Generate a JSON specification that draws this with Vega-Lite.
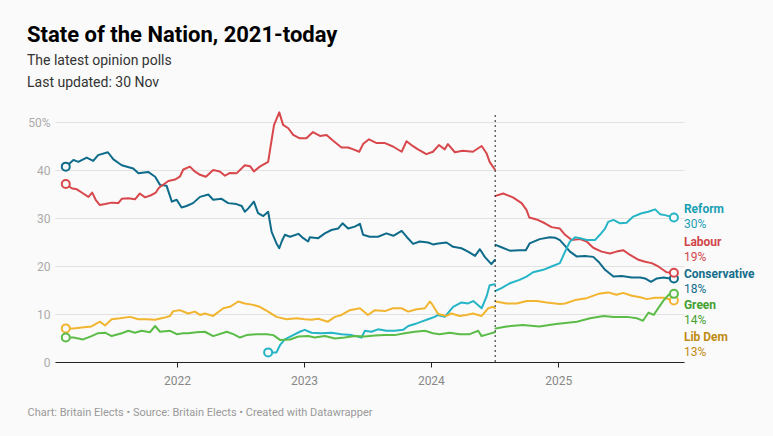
{
  "$schema": "https://vega.github.io/schema/vega-lite/v6.json",
  "width": 629,
  "height": 240,
  "autosize": {"type": "none"},
  "padding": {"left": 55, "top": 122, "right": 89, "bottom": 74},
  "background": "#fafafa",
  "config": {"view": {"stroke": null}, "font": "Roboto"},
  "title": {
    "text": "State of the Nation, 2021-today",
    "subtitle": ["The latest opinion polls", "Last updated: 30 Nov"],
    "anchor": "start",
    "frame": "group",
    "dx": -28,
    "offset": 20,
    "font": "Roboto",
    "fontSize": 22,
    "fontWeight": "bold",
    "color": "#000000",
    "subtitleFont": "Roboto",
    "subtitleFontSize": 14,
    "subtitleColor": "#333333",
    "subtitleLineHeight": 22,
    "subtitlePadding": 7
  },
  "datasets": {
    "polls": [
      {"p":"Conservative","d":"2021-02-15","v":40.7,"s":1},{"p":"Conservative","d":"2021-03-09","v":42.1,"s":1},{"p":"Conservative","d":"2021-03-23","v":41.7,"s":1},{"p":"Conservative","d":"2021-04-16","v":42.6,"s":1},{"p":"Conservative","d":"2021-05-05","v":41.9,"s":1},{"p":"Conservative","d":"2021-05-19","v":43.1,"s":1},{"p":"Conservative","d":"2021-06-16","v":43.7,"s":1},{"p":"Conservative","d":"2021-07-02","v":42.2,"s":1},{"p":"Conservative","d":"2021-07-26","v":41.0,"s":1},{"p":"Conservative","d":"2021-08-28","v":40.3,"s":1},{"p":"Conservative","d":"2021-09-12","v":39.3,"s":1},{"p":"Conservative","d":"2021-10-10","v":39.6,"s":1},{"p":"Conservative","d":"2021-10-30","v":38.6,"s":1},{"p":"Conservative","d":"2021-11-13","v":36.9,"s":1},{"p":"Conservative","d":"2021-12-02","v":36.7,"s":1},{"p":"Conservative","d":"2021-12-17","v":33.4,"s":1},{"p":"Conservative","d":"2021-12-31","v":33.8,"s":1},{"p":"Conservative","d":"2022-01-14","v":32.2,"s":1},{"p":"Conservative","d":"2022-01-28","v":32.5,"s":1},{"p":"Conservative","d":"2022-02-16","v":33.1,"s":1},{"p":"Conservative","d":"2022-03-08","v":34.4,"s":1},{"p":"Conservative","d":"2022-04-01","v":34.9,"s":1},{"p":"Conservative","d":"2022-04-15","v":33.8,"s":1},{"p":"Conservative","d":"2022-05-09","v":34.0,"s":1},{"p":"Conservative","d":"2022-05-28","v":33.1,"s":1},{"p":"Conservative","d":"2022-06-21","v":32.9,"s":1},{"p":"Conservative","d":"2022-07-06","v":32.5,"s":1},{"p":"Conservative","d":"2022-07-15","v":31.3,"s":1},{"p":"Conservative","d":"2022-07-25","v":32.0,"s":1},{"p":"Conservative","d":"2022-08-10","v":33.4,"s":1},{"p":"Conservative","d":"2022-08-22","v":31.0,"s":1},{"p":"Conservative","d":"2022-09-06","v":30.4,"s":1},{"p":"Conservative","d":"2022-09-20","v":31.3,"s":1},{"p":"Conservative","d":"2022-09-30","v":27.1,"s":1},{"p":"Conservative","d":"2022-10-14","v":24.7,"s":1},{"p":"Conservative","d":"2022-10-22","v":23.7,"s":1},{"p":"Conservative","d":"2022-10-29","v":25.1,"s":1},{"p":"Conservative","d":"2022-11-07","v":26.5,"s":1},{"p":"Conservative","d":"2022-11-22","v":26.1,"s":1},{"p":"Conservative","d":"2022-12-16","v":26.7,"s":1},{"p":"Conservative","d":"2022-12-30","v":25.8,"s":1},{"p":"Conservative","d":"2023-01-13","v":25.1,"s":1},{"p":"Conservative","d":"2023-01-18","v":26.0,"s":1},{"p":"Conservative","d":"2023-02-11","v":25.8,"s":1},{"p":"Conservative","d":"2023-03-02","v":26.8,"s":1},{"p":"Conservative","d":"2023-03-21","v":27.5,"s":1},{"p":"Conservative","d":"2023-04-09","v":27.8,"s":1},{"p":"Conservative","d":"2023-04-22","v":28.9,"s":1},{"p":"Conservative","d":"2023-05-08","v":27.8,"s":1},{"p":"Conservative","d":"2023-05-27","v":28.2,"s":1},{"p":"Conservative","d":"2023-06-11","v":28.8,"s":1},{"p":"Conservative","d":"2023-06-20","v":26.5,"s":1},{"p":"Conservative","d":"2023-07-09","v":26.1,"s":1},{"p":"Conservative","d":"2023-08-02","v":26.1,"s":1},{"p":"Conservative","d":"2023-08-26","v":26.8,"s":1},{"p":"Conservative","d":"2023-09-15","v":26.3,"s":1},{"p":"Conservative","d":"2023-10-09","v":27.3,"s":1},{"p":"Conservative","d":"2023-10-23","v":26.1,"s":1},{"p":"Conservative","d":"2023-11-11","v":24.6,"s":1},{"p":"Conservative","d":"2023-11-30","v":25.1,"s":1},{"p":"Conservative","d":"2023-12-24","v":24.9,"s":1},{"p":"Conservative","d":"2024-01-07","v":24.5,"s":1},{"p":"Conservative","d":"2024-01-22","v":24.7,"s":1},{"p":"Conservative","d":"2024-02-15","v":24.9,"s":1},{"p":"Conservative","d":"2024-03-05","v":24.0,"s":1},{"p":"Conservative","d":"2024-03-29","v":23.7,"s":1},{"p":"Conservative","d":"2024-04-17","v":23.0,"s":1},{"p":"Conservative","d":"2024-05-07","v":22.1,"s":1},{"p":"Conservative","d":"2024-05-21","v":23.5,"s":1},{"p":"Conservative","d":"2024-06-04","v":21.9,"s":1},{"p":"Conservative","d":"2024-06-23","v":20.4,"s":1},{"p":"Conservative","d":"2024-07-03","v":21.3,"s":1},
      {"p":"Conservative","d":"2024-07-05","v":24.4,"s":2},{"p":"Conservative","d":"2024-07-22","v":23.9,"s":2},{"p":"Conservative","d":"2024-08-15","v":23.2,"s":2},{"p":"Conservative","d":"2024-09-12","v":23.3,"s":2},{"p":"Conservative","d":"2024-09-30","v":23.3,"s":2},{"p":"Conservative","d":"2024-10-11","v":24.7,"s":2},{"p":"Conservative","d":"2024-11-09","v":25.6,"s":2},{"p":"Conservative","d":"2024-12-08","v":26.0,"s":2},{"p":"Conservative","d":"2024-12-23","v":25.9,"s":2},{"p":"Conservative","d":"2025-01-06","v":25.4,"s":2},{"p":"Conservative","d":"2025-01-21","v":24.2,"s":2},{"p":"Conservative","d":"2025-02-04","v":23.0,"s":2},{"p":"Conservative","d":"2025-02-23","v":22.0,"s":2},{"p":"Conservative","d":"2025-03-19","v":22.1,"s":2},{"p":"Conservative","d":"2025-04-12","v":21.9,"s":2},{"p":"Conservative","d":"2025-04-27","v":20.9,"s":2},{"p":"Conservative","d":"2025-05-16","v":19.2,"s":2},{"p":"Conservative","d":"2025-06-09","v":17.8,"s":2},{"p":"Conservative","d":"2025-07-03","v":17.9,"s":2},{"p":"Conservative","d":"2025-08-01","v":17.6,"s":2},{"p":"Conservative","d":"2025-08-25","v":17.6,"s":2},{"p":"Conservative","d":"2025-09-08","v":17.4,"s":2},{"p":"Conservative","d":"2025-09-25","v":16.7,"s":2},{"p":"Conservative","d":"2025-10-12","v":17.4,"s":2},{"p":"Conservative","d":"2025-10-31","v":17.6,"s":2},{"p":"Conservative","d":"2025-11-19","v":17.4,"s":2},{"p":"Conservative","d":"2025-11-30","v":17.4,"s":2},

      {"p":"Labour","d":"2021-02-15","v":37.1,"s":1},{"p":"Labour","d":"2021-03-04","v":36.2,"s":1},{"p":"Labour","d":"2021-03-18","v":36.0,"s":1},{"p":"Labour","d":"2021-04-06","v":35.1,"s":1},{"p":"Labour","d":"2021-04-21","v":34.4,"s":1},{"p":"Labour","d":"2021-05-02","v":35.3,"s":1},{"p":"Labour","d":"2021-05-12","v":33.8,"s":1},{"p":"Labour","d":"2021-05-24","v":32.7,"s":1},{"p":"Labour","d":"2021-06-08","v":32.9,"s":1},{"p":"Labour","d":"2021-06-27","v":33.2,"s":1},{"p":"Labour","d":"2021-07-16","v":33.1,"s":1},{"p":"Labour","d":"2021-07-26","v":34.0,"s":1},{"p":"Labour","d":"2021-08-14","v":34.1,"s":1},{"p":"Labour","d":"2021-09-02","v":33.9,"s":1},{"p":"Labour","d":"2021-09-16","v":35.1,"s":1},{"p":"Labour","d":"2021-10-01","v":34.3,"s":1},{"p":"Labour","d":"2021-10-20","v":34.8,"s":1},{"p":"Labour","d":"2021-11-01","v":35.3,"s":1},{"p":"Labour","d":"2021-11-10","v":36.3,"s":1},{"p":"Labour","d":"2021-12-07","v":37.7,"s":1},{"p":"Labour","d":"2021-12-26","v":38.0,"s":1},{"p":"Labour","d":"2022-01-09","v":38.6,"s":1},{"p":"Labour","d":"2022-01-19","v":40.1,"s":1},{"p":"Labour","d":"2022-02-07","v":40.7,"s":1},{"p":"Labour","d":"2022-02-21","v":39.7,"s":1},{"p":"Labour","d":"2022-03-08","v":39.0,"s":1},{"p":"Labour","d":"2022-03-25","v":38.6,"s":1},{"p":"Labour","d":"2022-04-15","v":40.0,"s":1},{"p":"Labour","d":"2022-05-04","v":39.7,"s":1},{"p":"Labour","d":"2022-05-19","v":38.8,"s":1},{"p":"Labour","d":"2022-06-02","v":39.4,"s":1},{"p":"Labour","d":"2022-06-21","v":39.3,"s":1},{"p":"Labour","d":"2022-07-15","v":41.0,"s":1},{"p":"Labour","d":"2022-07-30","v":40.8,"s":1},{"p":"Labour","d":"2022-08-10","v":39.7,"s":1},{"p":"Labour","d":"2022-08-27","v":40.7,"s":1},{"p":"Labour","d":"2022-09-20","v":41.7,"s":1},{"p":"Labour","d":"2022-09-27","v":44.9,"s":1},{"p":"Labour","d":"2022-10-07","v":49.4,"s":1},{"p":"Labour","d":"2022-10-22","v":52.0,"s":1},{"p":"Labour","d":"2022-11-02","v":49.4,"s":1},{"p":"Labour","d":"2022-11-17","v":48.7,"s":1},{"p":"Labour","d":"2022-12-01","v":47.3,"s":1},{"p":"Labour","d":"2022-12-20","v":46.6,"s":1},{"p":"Labour","d":"2023-01-08","v":46.6,"s":1},{"p":"Labour","d":"2023-01-27","v":47.9,"s":1},{"p":"Labour","d":"2023-02-16","v":47.1,"s":1},{"p":"Labour","d":"2023-03-07","v":47.3,"s":1},{"p":"Labour","d":"2023-03-26","v":46.1,"s":1},{"p":"Labour","d":"2023-04-19","v":44.7,"s":1},{"p":"Labour","d":"2023-05-08","v":44.7,"s":1},{"p":"Labour","d":"2023-05-23","v":44.3,"s":1},{"p":"Labour","d":"2023-06-09","v":43.8,"s":1},{"p":"Labour","d":"2023-06-20","v":45.4,"s":1},{"p":"Labour","d":"2023-07-07","v":46.4,"s":1},{"p":"Labour","d":"2023-07-29","v":45.6,"s":1},{"p":"Labour","d":"2023-08-22","v":45.6,"s":1},{"p":"Labour","d":"2023-09-14","v":44.9,"s":1},{"p":"Labour","d":"2023-10-09","v":43.8,"s":1},{"p":"Labour","d":"2023-10-23","v":46.0,"s":1},{"p":"Labour","d":"2023-11-06","v":45.2,"s":1},{"p":"Labour","d":"2023-11-25","v":44.3,"s":1},{"p":"Labour","d":"2023-12-19","v":43.3,"s":1},{"p":"Labour","d":"2024-01-07","v":43.8,"s":1},{"p":"Labour","d":"2024-01-24","v":45.2,"s":1},{"p":"Labour","d":"2024-02-10","v":44.3,"s":1},{"p":"Labour","d":"2024-02-19","v":45.4,"s":1},{"p":"Labour","d":"2024-03-10","v":43.7,"s":1},{"p":"Labour","d":"2024-04-02","v":44.0,"s":1},{"p":"Labour","d":"2024-05-01","v":43.8,"s":1},{"p":"Labour","d":"2024-05-26","v":45.0,"s":1},{"p":"Labour","d":"2024-06-09","v":43.5,"s":1},{"p":"Labour","d":"2024-06-18","v":41.7,"s":1},{"p":"Labour","d":"2024-07-03","v":40.1,"s":1},
      {"p":"Labour","d":"2024-07-05","v":34.6,"s":2},{"p":"Labour","d":"2024-07-27","v":35.1,"s":2},{"p":"Labour","d":"2024-08-24","v":34.3,"s":2},{"p":"Labour","d":"2024-09-18","v":33.1,"s":2},{"p":"Labour","d":"2024-10-02","v":31.7,"s":2},{"p":"Labour","d":"2024-10-10","v":30.1,"s":2},{"p":"Labour","d":"2024-10-31","v":29.7,"s":2},{"p":"Labour","d":"2024-11-24","v":28.9,"s":2},{"p":"Labour","d":"2024-12-13","v":28.1,"s":2},{"p":"Labour","d":"2025-01-06","v":27.8,"s":2},{"p":"Labour","d":"2025-01-21","v":26.5,"s":2},{"p":"Labour","d":"2025-02-09","v":25.4,"s":2},{"p":"Labour","d":"2025-03-05","v":25.6,"s":2},{"p":"Labour","d":"2025-03-24","v":25.1,"s":2},{"p":"Labour","d":"2025-04-12","v":23.8,"s":2},{"p":"Labour","d":"2025-05-06","v":23.0,"s":2},{"p":"Labour","d":"2025-05-30","v":22.6,"s":2},{"p":"Labour","d":"2025-06-18","v":23.0,"s":2},{"p":"Labour","d":"2025-07-07","v":23.3,"s":2},{"p":"Labour","d":"2025-07-27","v":22.3,"s":2},{"p":"Labour","d":"2025-08-20","v":21.3,"s":2},{"p":"Labour","d":"2025-09-08","v":20.9,"s":2},{"p":"Labour","d":"2025-09-27","v":20.6,"s":2},{"p":"Labour","d":"2025-10-16","v":19.9,"s":2},{"p":"Labour","d":"2025-11-09","v":18.7,"s":2},{"p":"Labour","d":"2025-11-30","v":18.6,"s":2},

      {"p":"Reform","d":"2022-09-20","v":2.0,"s":1},{"p":"Reform","d":"2022-10-14","v":2.0,"s":1},{"p":"Reform","d":"2022-10-24","v":3.5,"s":1},{"p":"Reform","d":"2022-11-07","v":4.7,"s":1},{"p":"Reform","d":"2022-12-01","v":5.6,"s":1},{"p":"Reform","d":"2022-12-20","v":6.3,"s":1},{"p":"Reform","d":"2023-01-03","v":6.7,"s":1},{"p":"Reform","d":"2023-01-23","v":6.1,"s":1},{"p":"Reform","d":"2023-02-20","v":6.0,"s":1},{"p":"Reform","d":"2023-03-21","v":6.1,"s":1},{"p":"Reform","d":"2023-04-19","v":5.8,"s":1},{"p":"Reform","d":"2023-05-18","v":5.6,"s":1},{"p":"Reform","d":"2023-06-16","v":5.1,"s":1},{"p":"Reform","d":"2023-06-25","v":6.5,"s":1},{"p":"Reform","d":"2023-07-14","v":6.3,"s":1},{"p":"Reform","d":"2023-08-02","v":6.8,"s":1},{"p":"Reform","d":"2023-08-26","v":6.5,"s":1},{"p":"Reform","d":"2023-09-19","v":6.5,"s":1},{"p":"Reform","d":"2023-10-13","v":6.7,"s":1},{"p":"Reform","d":"2023-10-28","v":7.5,"s":1},{"p":"Reform","d":"2023-11-16","v":7.9,"s":1},{"p":"Reform","d":"2023-12-05","v":8.4,"s":1},{"p":"Reform","d":"2023-12-24","v":8.9,"s":1},{"p":"Reform","d":"2024-01-12","v":9.4,"s":1},{"p":"Reform","d":"2024-01-22","v":9.8,"s":1},{"p":"Reform","d":"2024-02-10","v":9.4,"s":1},{"p":"Reform","d":"2024-03-05","v":11.5,"s":1},{"p":"Reform","d":"2024-03-29","v":12.4,"s":1},{"p":"Reform","d":"2024-04-17","v":12.2,"s":1},{"p":"Reform","d":"2024-05-02","v":12.7,"s":1},{"p":"Reform","d":"2024-05-26","v":11.2,"s":1},{"p":"Reform","d":"2024-06-09","v":13.6,"s":1},{"p":"Reform","d":"2024-06-18","v":16.0,"s":1},{"p":"Reform","d":"2024-07-03","v":16.2,"s":1},
      {"p":"Reform","d":"2024-07-05","v":14.8,"s":2},{"p":"Reform","d":"2024-07-22","v":15.4,"s":2},{"p":"Reform","d":"2024-08-15","v":16.4,"s":2},{"p":"Reform","d":"2024-09-12","v":17.1,"s":2},{"p":"Reform","d":"2024-10-02","v":17.8,"s":2},{"p":"Reform","d":"2024-10-21","v":18.7,"s":2},{"p":"Reform","d":"2024-11-19","v":19.2,"s":2},{"p":"Reform","d":"2024-12-13","v":19.9,"s":2},{"p":"Reform","d":"2025-01-06","v":20.6,"s":2},{"p":"Reform","d":"2025-01-21","v":23.0,"s":2},{"p":"Reform","d":"2025-02-04","v":25.1,"s":2},{"p":"Reform","d":"2025-02-19","v":26.0,"s":2},{"p":"Reform","d":"2025-03-05","v":25.8,"s":2},{"p":"Reform","d":"2025-03-24","v":25.4,"s":2},{"p":"Reform","d":"2025-04-17","v":25.4,"s":2},{"p":"Reform","d":"2025-05-01","v":26.5,"s":2},{"p":"Reform","d":"2025-05-16","v":27.8,"s":2},{"p":"Reform","d":"2025-05-25","v":29.2,"s":2},{"p":"Reform","d":"2025-06-09","v":29.6,"s":2},{"p":"Reform","d":"2025-06-28","v":28.9,"s":2},{"p":"Reform","d":"2025-07-17","v":29.0,"s":2},{"p":"Reform","d":"2025-08-05","v":30.3,"s":2},{"p":"Reform","d":"2025-08-29","v":31.0,"s":2},{"p":"Reform","d":"2025-09-17","v":31.3,"s":2},{"p":"Reform","d":"2025-10-07","v":31.8,"s":2},{"p":"Reform","d":"2025-10-21","v":30.8,"s":2},{"p":"Reform","d":"2025-11-04","v":30.6,"s":2},{"p":"Reform","d":"2025-11-30","v":30.1,"s":2},

      {"p":"Lib Dem","d":"2021-02-15","v":7.0,"s":1},{"p":"Lib Dem","d":"2021-03-09","v":7.0,"s":1},{"p":"Lib Dem","d":"2021-04-02","v":7.2,"s":1},{"p":"Lib Dem","d":"2021-04-30","v":7.4,"s":1},{"p":"Lib Dem","d":"2021-05-24","v":8.4,"s":1},{"p":"Lib Dem","d":"2021-06-08","v":7.6,"s":1},{"p":"Lib Dem","d":"2021-06-27","v":8.9,"s":1},{"p":"Lib Dem","d":"2021-07-21","v":9.1,"s":1},{"p":"Lib Dem","d":"2021-08-19","v":9.4,"s":1},{"p":"Lib Dem","d":"2021-09-12","v":8.9,"s":1},{"p":"Lib Dem","d":"2021-10-06","v":8.9,"s":1},{"p":"Lib Dem","d":"2021-10-30","v":8.8,"s":1},{"p":"Lib Dem","d":"2021-11-23","v":9.2,"s":1},{"p":"Lib Dem","d":"2021-12-12","v":9.6,"s":1},{"p":"Lib Dem","d":"2021-12-21","v":10.6,"s":1},{"p":"Lib Dem","d":"2022-01-09","v":10.8,"s":1},{"p":"Lib Dem","d":"2022-02-02","v":10.1,"s":1},{"p":"Lib Dem","d":"2022-02-21","v":10.5,"s":1},{"p":"Lib Dem","d":"2022-03-08","v":9.8,"s":1},{"p":"Lib Dem","d":"2022-03-22","v":10.1,"s":1},{"p":"Lib Dem","d":"2022-04-15","v":9.6,"s":1},{"p":"Lib Dem","d":"2022-05-14","v":11.2,"s":1},{"p":"Lib Dem","d":"2022-06-02","v":11.5,"s":1},{"p":"Lib Dem","d":"2022-06-26","v":12.6,"s":1},{"p":"Lib Dem","d":"2022-07-15","v":12.2,"s":1},{"p":"Lib Dem","d":"2022-08-08","v":11.9,"s":1},{"p":"Lib Dem","d":"2022-08-27","v":11.5,"s":1},{"p":"Lib Dem","d":"2022-09-20","v":10.5,"s":1},{"p":"Lib Dem","d":"2022-10-14","v":9.4,"s":1},{"p":"Lib Dem","d":"2022-11-12","v":8.9,"s":1},{"p":"Lib Dem","d":"2022-12-11","v":9.1,"s":1},{"p":"Lib Dem","d":"2023-01-03","v":8.9,"s":1},{"p":"Lib Dem","d":"2023-01-23","v":8.8,"s":1},{"p":"Lib Dem","d":"2023-02-11","v":9.0,"s":1},{"p":"Lib Dem","d":"2023-03-11","v":8.4,"s":1},{"p":"Lib Dem","d":"2023-03-31","v":9.4,"s":1},{"p":"Lib Dem","d":"2023-04-19","v":9.8,"s":1},{"p":"Lib Dem","d":"2023-05-13","v":10.8,"s":1},{"p":"Lib Dem","d":"2023-06-11","v":11.2,"s":1},{"p":"Lib Dem","d":"2023-07-04","v":9.8,"s":1},{"p":"Lib Dem","d":"2023-07-24","v":10.8,"s":1},{"p":"Lib Dem","d":"2023-08-22","v":10.6,"s":1},{"p":"Lib Dem","d":"2023-09-14","v":11.2,"s":1},{"p":"Lib Dem","d":"2023-10-09","v":11.2,"s":1},{"p":"Lib Dem","d":"2023-10-28","v":10.5,"s":1},{"p":"Lib Dem","d":"2023-11-21","v":11.0,"s":1},{"p":"Lib Dem","d":"2023-12-15","v":11.2,"s":1},{"p":"Lib Dem","d":"2023-12-29","v":12.6,"s":1},{"p":"Lib Dem","d":"2024-01-05","v":12.0,"s":1},{"p":"Lib Dem","d":"2024-01-22","v":10.0,"s":1},{"p":"Lib Dem","d":"2024-02-15","v":9.6,"s":1},{"p":"Lib Dem","d":"2024-02-29","v":10.1,"s":1},{"p":"Lib Dem","d":"2024-03-24","v":9.6,"s":1},{"p":"Lib Dem","d":"2024-04-12","v":9.8,"s":1},{"p":"Lib Dem","d":"2024-05-01","v":10.1,"s":1},{"p":"Lib Dem","d":"2024-05-26","v":9.6,"s":1},{"p":"Lib Dem","d":"2024-06-14","v":11.2,"s":1},{"p":"Lib Dem","d":"2024-06-28","v":11.5,"s":1},{"p":"Lib Dem","d":"2024-07-03","v":11.2,"s":1},
      {"p":"Lib Dem","d":"2024-07-05","v":12.6,"s":2},{"p":"Lib Dem","d":"2024-08-06","v":12.2,"s":2},{"p":"Lib Dem","d":"2024-09-04","v":12.2,"s":2},{"p":"Lib Dem","d":"2024-10-03","v":12.7,"s":2},{"p":"Lib Dem","d":"2024-11-01","v":12.7,"s":2},{"p":"Lib Dem","d":"2024-11-29","v":12.4,"s":2},{"p":"Lib Dem","d":"2025-01-06","v":12.1,"s":2},{"p":"Lib Dem","d":"2025-01-21","v":12.2,"s":2},{"p":"Lib Dem","d":"2025-02-19","v":12.9,"s":2},{"p":"Lib Dem","d":"2025-03-24","v":13.3,"s":2},{"p":"Lib Dem","d":"2025-04-27","v":14.2,"s":2},{"p":"Lib Dem","d":"2025-05-25","v":14.5,"s":2},{"p":"Lib Dem","d":"2025-06-18","v":14.0,"s":2},{"p":"Lib Dem","d":"2025-07-07","v":14.4,"s":2},{"p":"Lib Dem","d":"2025-08-01","v":13.8,"s":2},{"p":"Lib Dem","d":"2025-08-25","v":13.5,"s":2},{"p":"Lib Dem","d":"2025-09-13","v":13.1,"s":2},{"p":"Lib Dem","d":"2025-10-07","v":13.4,"s":2},{"p":"Lib Dem","d":"2025-10-31","v":13.4,"s":2},{"p":"Lib Dem","d":"2025-11-30","v":12.8,"s":2},

      {"p":"Green","d":"2021-02-15","v":5.1,"s":1},{"p":"Green","d":"2021-03-09","v":5.1,"s":1},{"p":"Green","d":"2021-04-06","v":4.7,"s":1},{"p":"Green","d":"2021-04-30","v":5.4,"s":1},{"p":"Green","d":"2021-05-19","v":6.0,"s":1},{"p":"Green","d":"2021-06-08","v":6.1,"s":1},{"p":"Green","d":"2021-06-27","v":5.4,"s":1},{"p":"Green","d":"2021-07-26","v":6.0,"s":1},{"p":"Green","d":"2021-08-14","v":6.5,"s":1},{"p":"Green","d":"2021-09-02","v":6.1,"s":1},{"p":"Green","d":"2021-09-21","v":6.5,"s":1},{"p":"Green","d":"2021-10-15","v":6.2,"s":1},{"p":"Green","d":"2021-10-30","v":7.5,"s":1},{"p":"Green","d":"2021-11-13","v":6.3,"s":1},{"p":"Green","d":"2021-12-12","v":6.5,"s":1},{"p":"Green","d":"2021-12-31","v":5.8,"s":1},{"p":"Green","d":"2022-01-19","v":6.0,"s":1},{"p":"Green","d":"2022-02-02","v":6.0,"s":1},{"p":"Green","d":"2022-02-26","v":6.2,"s":1},{"p":"Green","d":"2022-03-22","v":6.3,"s":1},{"p":"Green","d":"2022-04-15","v":5.4,"s":1},{"p":"Green","d":"2022-05-24","v":6.3,"s":1},{"p":"Green","d":"2022-06-12","v":5.8,"s":1},{"p":"Green","d":"2022-07-01","v":5.1,"s":1},{"p":"Green","d":"2022-07-20","v":5.6,"s":1},{"p":"Green","d":"2022-08-18","v":5.8,"s":1},{"p":"Green","d":"2022-09-16","v":5.8,"s":1},{"p":"Green","d":"2022-10-05","v":5.6,"s":1},{"p":"Green","d":"2022-10-24","v":4.6,"s":1},{"p":"Green","d":"2022-11-22","v":4.7,"s":1},{"p":"Green","d":"2022-12-16","v":5.3,"s":1},{"p":"Green","d":"2023-01-13","v":5.4,"s":1},{"p":"Green","d":"2023-02-01","v":5.1,"s":1},{"p":"Green","d":"2023-03-02","v":5.4,"s":1},{"p":"Green","d":"2023-03-31","v":4.9,"s":1},{"p":"Green","d":"2023-04-28","v":5.1,"s":1},{"p":"Green","d":"2023-05-27","v":5.4,"s":1},{"p":"Green","d":"2023-06-25","v":5.3,"s":1},{"p":"Green","d":"2023-07-24","v":5.5,"s":1},{"p":"Green","d":"2023-08-22","v":5.6,"s":1},{"p":"Green","d":"2023-09-19","v":5.6,"s":1},{"p":"Green","d":"2023-10-18","v":6.0,"s":1},{"p":"Green","d":"2023-11-16","v":6.3,"s":1},{"p":"Green","d":"2023-12-15","v":6.5,"s":1},{"p":"Green","d":"2024-01-07","v":6.0,"s":1},{"p":"Green","d":"2024-01-26","v":5.8,"s":1},{"p":"Green","d":"2024-02-24","v":6.1,"s":1},{"p":"Green","d":"2024-03-24","v":5.8,"s":1},{"p":"Green","d":"2024-04-22","v":5.8,"s":1},{"p":"Green","d":"2024-05-16","v":6.5,"s":1},{"p":"Green","d":"2024-05-26","v":5.4,"s":1},{"p":"Green","d":"2024-06-14","v":5.8,"s":1},{"p":"Green","d":"2024-07-03","v":6.2,"s":1},
      {"p":"Green","d":"2024-07-05","v":7.0,"s":2},{"p":"Green","d":"2024-08-06","v":7.4,"s":2},{"p":"Green","d":"2024-09-21","v":7.7,"s":2},{"p":"Green","d":"2024-11-08","v":7.4,"s":2},{"p":"Green","d":"2024-12-26","v":7.9,"s":2},{"p":"Green","d":"2025-02-24","v":8.4,"s":2},{"p":"Green","d":"2025-04-03","v":9.1,"s":2},{"p":"Green","d":"2025-05-12","v":9.6,"s":2},{"p":"Green","d":"2025-06-09","v":9.4,"s":2},{"p":"Green","d":"2025-07-18","v":9.4,"s":2},{"p":"Green","d":"2025-08-16","v":9.1,"s":2},{"p":"Green","d":"2025-09-02","v":8.6,"s":2},{"p":"Green","d":"2025-09-18","v":10.3,"s":2},{"p":"Green","d":"2025-10-03","v":9.8,"s":2},{"p":"Green","d":"2025-10-12","v":10.8,"s":2},{"p":"Green","d":"2025-11-01","v":12.9,"s":2},{"p":"Green","d":"2025-11-15","v":14.0,"s":2},{"p":"Green","d":"2025-11-30","v":14.2,"s":2}
    ],
    "labels": [
      {"p":"Reform","d":"2025-11-30","v":30},
      {"p":"Labour","d":"2025-11-30","v":19},
      {"p":"Conservative","d":"2025-11-30","v":18},
      {"p":"Green","d":"2025-11-30","v":14},
      {"p":"Lib Dem","d":"2025-11-30","v":13}
    ],
    "events": [
      {"d":"2024-07-04","event":"General election"}
    ]
  },
  "layer": [
    {
      "data": {"name": "polls"},
      "mark": {"type": "line", "strokeWidth": 2, "strokeJoin": "round", "strokeCap": "round"},
      "encoding": {
        "x": {
          "field": "d", "type": "temporal",
          "scale": {"domain": [{"year": 2021, "month": 1, "date": 15}, {"year": 2025, "month": 12, "date": 29}]},
          "axis": {
            "format": "%Y", "tickCount": {"interval": "year", "step": 1}, "grid": false,
            "domainColor": "#222222", "tickColor": "#222222", "tickSize": 5,
            "labelColor": "#888888", "labelFontSize": 12, "labelPadding": 8, "labelFont": "Roboto",
            "title": "Chart: Britain Elects • Source: Britain Elects • Created with Datawrapper",
            "titleFont": "Roboto", "titleFontSize": 11, "titleFontWeight": "normal", "titleColor": "#999999",
            "titleAnchor": "start", "titleAlign": "left", "titleBaseline": "middle", "titleX": -28, "titleY": 50
          }
        },
        "y": {
          "field": "v", "type": "quantitative",
          "scale": {"domain": [0, 50], "nice": false},
          "axis": {
            "values": [0, 10, 20, 30, 40, 50],
            "labelExpr": "datum.value == 50 ? '50%' : datum.label",
            "domain": false, "ticks": false, "grid": true, "gridColor": "#e2e2e2",
            "labelColor": "#aaaaaa", "labelFontSize": 12, "labelPadding": 5, "labelFont": "Roboto",
            "title": null
          }
        },
        "color": {
          "field": "p", "type": "nominal",
          "scale": {"domain": ["Reform", "Labour", "Conservative", "Green", "Lib Dem"], "range": ["#25b5c6", "#d8474b", "#0e6b8a", "#5bbc48", "#f2b530"]},
          "legend": null
        },
        "detail": {"field": "s", "type": "nominal"}
      }
    },
    {
      "data": {"name": "events"},
      "mark": {"type": "rule", "strokeDash": [2, 3], "color": "#222222", "strokeWidth": 1},
      "encoding": {
        "x": {"field": "d", "type": "temporal"},
        "y": {"datum": 0, "type": "quantitative"},
        "y2": {"datum": 52}
      }
    },
    {
      "data": {"name": "polls"},
      "transform": [
        {"window": [{"op": "row_number", "as": "rn"}], "sort": [{"field": "d", "order": "ascending"}], "groupby": ["p"]},
        {"joinaggregate": [{"op": "count", "as": "n"}], "groupby": ["p"]},
        {"filter": "datum.rn == 1 || datum.rn == datum.n"}
      ],
      "mark": {"type": "point", "filled": false, "fill": "#fafafa", "size": 64, "strokeWidth": 2, "opacity": 1},
      "encoding": {
        "x": {"field": "d", "type": "temporal"},
        "y": {"field": "v", "type": "quantitative"},
        "color": {"field": "p", "type": "nominal", "legend": null}
      }
    },
    {
      "data": {"name": "labels"},
      "mark": {
        "type": "text", "align": "left", "baseline": "middle", "dx": 10, "fontWeight": "bold", "fontSize": 12, "font": "Roboto",
        "dy": {"expr": "datum.p == 'Reform' ? -9 : datum.p == 'Labour' ? -29 : datum.p == 'Conservative' ? -2 : datum.p == 'Green' ? 10 : 37"}
      },
      "encoding": {
        "x": {"field": "d", "type": "temporal"},
        "y": {"field": "v", "type": "quantitative"},
        "text": {"field": "p"},
        "fill": {
          "field": "p", "type": "nominal",
          "scale": {"domain": ["Reform", "Labour", "Conservative", "Green", "Lib Dem"], "range": ["#1b9fb2", "#d0464a", "#146d8c", "#43a02f", "#c08b12"]},
          "legend": null
        }
      }
    },
    {
      "data": {"name": "labels"},
      "transform": [{"calculate": "datum.v + '%'", "as": "t"}],
      "mark": {
        "type": "text", "align": "left", "baseline": "middle", "dx": 10, "fontSize": 12, "font": "Roboto",
        "dy": {"expr": "datum.p == 'Reform' ? 6 : datum.p == 'Labour' ? -14 : datum.p == 'Conservative' ? 13 : datum.p == 'Green' ? 25 : 52"}
      },
      "encoding": {
        "x": {"field": "d", "type": "temporal"},
        "y": {"field": "v", "type": "quantitative"},
        "text": {"field": "t"},
        "fill": {"field": "p", "type": "nominal", "legend": null}
      }
    }
  ]
}
